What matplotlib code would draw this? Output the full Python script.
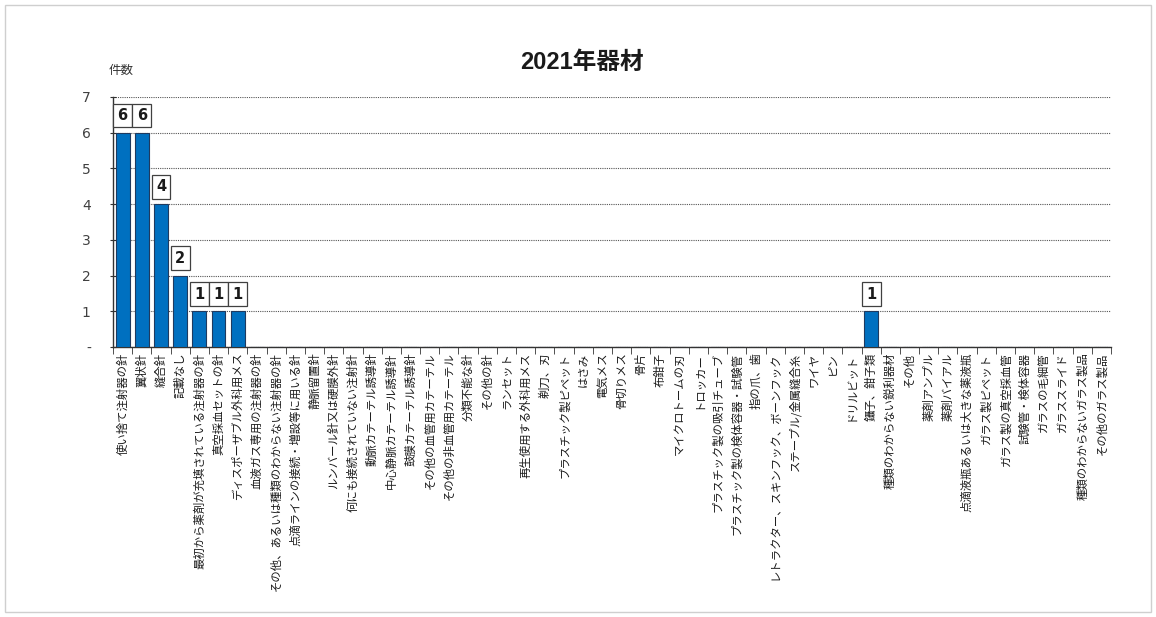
import matplotlib
matplotlib.use("Agg")
import matplotlib.pyplot as plt
from matplotlib.patches import Rectangle
from matplotlib.ticker import FixedLocator

plt.rcParams['font.family'] = ['Noto Sans CJK JP', 'DejaVu Sans']

categories = [
    "使い捨て注射器の針", "翼状針", "縫合針", "記載なし",
    "最初から薬剤が充填されている注射器の針", "真空採血セットの針",
    "ディスポーザブル外科用メス", "血液ガス専用の注射器の針",
    "その他、あるいは種類のわからない注射器の針",
    "点滴ラインの接続・増設等に用いる針", "静脈留置針",
    "ルンバール針又は硬膜外針", "何にも接続されていない注射針",
    "動脈カテーテル誘導針", "中心静脈カテーテル誘導針",
    "鼓膜カテーテル誘導針", "その他の血管用カテーテル",
    "その他の非血管用カテーテル", "分類不能な針", "その他の針",
    "ランセット", "再生使用する外科用メス", "剃刀、刃",
    "プラスチック製ピペット", "はさみ", "電気メス", "骨切りメス",
    "骨片", "布鉗子", "マイクロトームの刃", "トロッカー",
    "プラスチック製の吸引チューブ", "プラスチック製の検体容器・試験管",
    "指の爪、歯", "レトラクター、スキンフック、ボーンフック",
    "ステープル/金属縫合糸", "ワイヤ", "ピン", "ドリルビット",
    "鑷子、鉗子類", "種類のわからない鋭利器材", "その他",
    "薬剤アンプル", "薬剤バイアル", "点滴液瓶あるいは大きな薬液瓶",
    "ガラス製ピペット", "ガラス製の真空採血管", "試験管・検体容器",
    "ガラスの毛細管", "ガラススライド", "種類のわからないガラス製品",
    "その他のガラス製品",
]
values = [6, 6, 4, 2, 1, 1, 1] + [0] * 32 + [1] + [0] * 12
ytick_labels = ["-", "1", "2", "3", "4", "5", "6", "7"]

W, H = 1156, 617
fig = plt.figure(figsize=(W / 100, H / 100), dpi=100)
fig.patch.set_facecolor("white")
fig.add_artist(Rectangle((5 / W, 5 / H), 1 - 10 / W, 1 - 10 / H,
                         transform=fig.transFigure, fill=False,
                         edgecolor="#cfcfcf", linewidth=1.0))

ax = fig.add_axes([113 / W, 1 - 347 / H, 998 / W, 250 / H])
x = list(range(len(categories)))
bars = ax.bar(x, values, width=0.72, color="#0070C0",
              edgecolor="#1f3a5f", linewidth=0.8, zorder=3)

for xi, v in zip(x, values):
    if v > 0:
        ax.annotate(str(v), (xi, v), xytext=(0, 7), textcoords="offset points",
                    ha="center", va="bottom", fontsize=10.5, fontweight="bold",
                    family="DejaVu Sans", color="#1a1a1a",
                    bbox=dict(boxstyle="square,pad=0.3", fc="white",
                              ec="#404040", lw=0.9), zorder=4)

ax.set_xlim(-0.5, len(categories) - 0.5)
ax.set_ylim(0, 7)
ax.set_yticks(range(8))
ax.set_yticklabels(ytick_labels, fontsize=10, color="#404040", family="DejaVu Sans")
ax.yaxis.grid(True, linestyle=(0, (1, 1)), color="#555555", linewidth=0.8, zorder=0)
ax.set_axisbelow(True)

ax.set_xticks(x)
ax.set_xticklabels(categories, rotation=90, fontsize=8.2, color="#1a1a1a")
ax.tick_params(axis="x", which="major", length=0, pad=4)
ax.xaxis.set_minor_locator(FixedLocator([i - 0.5 for i in range(len(categories) + 1)]))
ax.tick_params(axis="x", which="minor", length=5, direction="out", color="#333333")
ax.tick_params(axis="y", length=4, direction="inout", color="#333333", pad=14)

for s in ["top", "right"]:
    ax.spines[s].set_visible(False)
for s in ["left", "bottom"]:
    ax.spines[s].set_color("#333333")
    ax.spines[s].set_linewidth(1.0)

fig.text(582 / W, 1 - 62 / H, "2021年器材", ha="center", va="center",
         fontsize=17, fontweight="bold", color="#1a1a1a",
         family=["Liberation Sans", "Noto Sans CJK JP"])
fig.text(121 / W, 1 - 70 / H, "件数", ha="center", va="center",
         fontsize=9, color="#333333")

fig.savefig("out.png", dpi=100)
